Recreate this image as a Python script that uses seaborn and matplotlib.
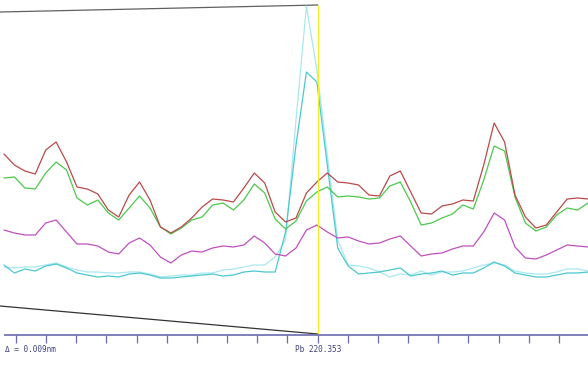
import numpy as np
import pandas as pd
import matplotlib
matplotlib.use("Agg")
import matplotlib.pyplot as plt
import seaborn as sns

# sample index along the wavelength window (Pb 220.353 nm line)
idx = list(range(57))

# depth of each trace below the top of the window (screen units, larger = lower)
red = [154, 165, 171, 174, 150, 142, 162, 187, 189, 194, 210, 217, 195, 182, 200, 227, 233, 227, 218, 207,
       199, 200, 202, 188, 173, 183, 212, 222, 218, 193, 182, 173, 182, 183, 185, 195, 196, 176, 171, 192,
       213, 214, 206, 204, 200, 201, 165, 123, 142, 195, 217, 228, 225, 212, 199, 198, 199]
green = [178, 177, 188, 189, 173, 162, 170, 198, 205, 200, 213, 220, 208, 196, 208, 227, 234, 228, 220, 217,
         205, 203, 210, 200, 184, 193, 219, 229, 221, 201, 192, 187, 197, 196, 197, 199, 198, 186, 182, 202,
         225, 223, 218, 214, 205, 209, 180, 146, 151, 197, 223, 231, 227, 215, 208, 210, 203]
magenta = [230, 233, 235, 235, 223, 220, 232, 244, 244, 246, 252, 254, 243, 238, 245, 257, 263, 255, 251, 252,
           248, 246, 247, 245, 236, 243, 254, 256, 248, 230, 225, 232, 238, 237, 241, 244, 243, 239, 236, 246,
           256, 254, 253, 249, 246, 246, 232, 213, 220, 247, 258, 259, 255, 250, 245, 246, 247]
turquoise = [265, 273, 269, 271, 266, 264, 268, 273, 275, 277, 276, 277, 274, 273, 275, 278, 278, 277, 276, 275,
             274, 276, 275, 272, 271, 272, 272, 232, 145, 72, 82, 165, 248, 266, 274, 273, 272, 270, 268, 276,
             274, 273, 271, 275, 273, 273, 268, 262, 266, 273, 275, 277, 277, 275, 273, 273, 272]
pale = [267, 268, 267, 267, 265, 263, 267, 270, 272, 272, 273, 273, 272, 272, 274, 277, 276, 275, 275, 273,
        273, 270, 269, 267, 265, 265, 257, 240, 120, 6, 70, 155, 240, 265, 266, 268, 272, 277, 274, 275,
        271, 275, 272, 272, 271, 268, 265, 263, 265, 271, 273, 274, 274, 272, 269, 269, 271]

series_names = ["pale", "turquoise", "magenta", "green", "red"]
palette = {"red": "#b84a4a", "green": "#4cc84c", "magenta": "#c050c0",
           "turquoise": "#4cc8d0", "pale": "#a8e8f0"}

marker_pos = 30.1          # Pb 220.353 marker
left_label = "\u0394 = 0.009nm"
center_label = "Pb 220.353"

values = {"red": red, "green": green, "magenta": magenta, "turquoise": turquoise, "pale": pale}
df = pd.concat([pd.DataFrame({"idx": idx, "depth": values[n], "series": n}) for n in series_names],
               ignore_index=True)

sns.set_style("white")
fig = plt.figure(figsize=(5.88, 3.74), dpi=100)
ax = fig.add_axes([0, 0, 1, 1])

x_left = -0.3835
x_right = 56.0

# zoom guide lines
ax.plot([x_left, marker_pos], [12, 5], color="#606060", lw=0.9, zorder=1)
ax.plot([x_left, marker_pos], [306, 334], color="#333333", lw=0.9, zorder=1)

sns.lineplot(data=df, x="idx", y="depth", hue="series", hue_order=series_names,
             palette=palette, estimator=None, sort=False, legend=False, lw=0.9, ax=ax, zorder=3)

# yellow marker
ax.vlines(marker_pos, 5, 335, color="#f4f028", lw=0.9, zorder=4)

# bottom axis
ax.hlines(335, 0.0, x_right, color="#6a6ab0", lw=1.2, zorder=5)
ticks = 1.1505 + 2.8926 * np.arange(19)
ax.vlines(ticks, 335, 343, color="#6a6ab0", lw=0.9, zorder=5)

ax.text(0.1, 352, left_label, family="DejaVu Sans Mono", fontsize=5.6, color="#404080",
        ha="left", va="baseline")
ax.text(27.9, 352, center_label, family="DejaVu Sans Mono", fontsize=5.6, color="#404080",
        ha="left", va="baseline")

ax.set_xlim(x_left, x_right)
ax.set_ylim(374, 0)
ax.axis("off")
fig.savefig("out.png", dpi=100)
